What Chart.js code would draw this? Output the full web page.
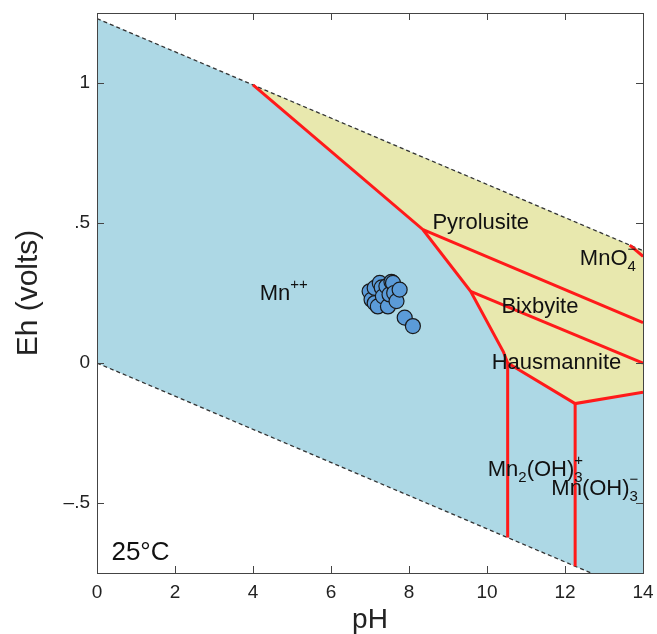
<!DOCTYPE html>
<html><head><meta charset="utf-8">
<script src="https://cdn.jsdelivr.net/npm/chart.js@4.4.1/dist/chart.umd.min.js"></script>
<style>html,body{margin:0;padding:0;background:#fff;} #wrap{width:657px;height:634px;}</style>
</head><body><div id="wrap"><canvas id="c" width="657" height="634"></canvas></div>
<script>
// ---- tick values / labels ----
const xTickValues = [0, 2, 4, 6, 8, 10, 12, 14];
const yTickValues = [-0.5, 0, 0.5, 1];
const yTickLabels = ['\u2013.5', '0', '.5', '1'];

// ---- water stability limits ----
const upperWaterPH = [0, 14];
const upperWaterEh = [1.23, 0.401];
const lowerWaterPH = [0, 14];
const lowerWaterEh = [0, -0.829];

// ---- oxide (yellow) field ----
const oxideTopPH = [4.0, 14];
const oxideTopEh = [0.993, 0.401];
const oxideBottomPH = [4.0, 8.36, 9.58, 10.42, 10.53, 12.26, 14];
const oxideBottomEh = [0.993, 0.476, 0.256, 0.04, 0.0, -0.145, -0.104];

// ---- other boundaries ----
const pyroBixPH = [8.36, 14];
const pyroBixEh = [0.476, 0.144];
const bixHausPH = [9.58, 14];
const bixHausEh = [0.256, 0.0];
const mn2ohPH = [10.53, 10.53];
const mn2ohEh = [0.0, -0.623];
const mnoh3PH = [12.26, 12.26];
const mnoh3Eh = [-0.145, -0.726];
const mno4PH = [13.66, 14];
const mno4Eh = [0.421, 0.381];

// ---- samples ----
const samplePH = [6.99, 7.04, 7.12, 7.12, 7.20, 7.25, 7.30, 7.33, 7.42, 7.46, 7.50, 7.55, 7.59, 7.62, 7.68, 7.76, 7.89, 8.10];
const sampleEh = [0.256, 0.226, 0.268, 0.214, 0.202, 0.286, 0.270, 0.238, 0.274, 0.202, 0.245, 0.290, 0.286, 0.250, 0.221, 0.262, 0.162, 0.132];

// ---- field labels ----
const fieldLabels = [
  {parts: [{t: 'Mn'}, {sup: '++'}], ph: 4.17, eh: 0.226},
  {parts: [{t: 'Pyrolusite'}], ph: 8.6, eh: 0.48},
  {parts: [{t: 'MnO'}, {sub: '4', sup: '\u2212'}], ph: 12.38, eh: 0.351},
  {parts: [{t: 'Bixbyite'}], ph: 10.37, eh: 0.18},
  {parts: [{t: 'Hausmannite'}], ph: 10.12, eh: -0.02},
  {parts: [{t: 'Mn'}, {sub: '2'}, {t: '(OH)'}, {sub: '3', sup: '+'}], ph: 10.02, eh: -0.405},
  {parts: [{t: 'Mn(OH)'}, {sub: '3', sup: '\u2212'}], ph: 11.65, eh: -0.47},
  {parts: [{t: '25\u00B0C'}], ph: 0.37, eh: -0.704, size: 26}
];

const FONT = "'Liberation Sans', Arial, Helvetica, sans-serif";
const pts = (xs, ys) => xs.map((x, i) => ({x: x, y: ys[i]}));
const RED = '#ff1a1a';
const BLUE = '#add8e5';
const YELLOW = '#e8e8ae';

function redLine(xs, ys) {
  return {data: pts(xs, ys), borderColor: RED, borderWidth: 3, pointRadius: 0, fill: false, order: 5, tension: 0};
}

const frame = {
  id: 'frame',
  afterDatasetsDraw(chart) {
    const ctx = chart.ctx, a = chart.chartArea;
    const xs = chart.scales.x, ys = chart.scales.y;
    ctx.save();
    ctx.fillStyle = '#111';
    ctx.textBaseline = 'alphabetic';
    ctx.textAlign = 'left';
    fieldLabels.forEach(l => {
      const size = l.size || 22;
      const small = Math.round(size * 0.7);
      let x = xs.getPixelForValue(l.ph);
      const y = ys.getPixelForValue(l.eh);
      l.parts.forEach(p => {
        if (p.t) {
          ctx.font = size + 'px ' + FONT;
          ctx.fillText(p.t, x, y);
          x += ctx.measureText(p.t).width;
        } else {
          ctx.font = small + 'px ' + FONT;
          let w = 0;
          if (p.sub) { ctx.fillText(p.sub, x, y + 6); w = Math.max(w, ctx.measureText(p.sub).width); }
          if (p.sup) { ctx.fillText(p.sup, x, y - 11); w = Math.max(w, ctx.measureText(p.sup).width); }
          x += w;
        }
      });
    });
    ctx.strokeStyle = '#444';
    ctx.lineWidth = 1;
    ctx.beginPath();
    const tl = 7;
    xs.ticks.forEach(t => {
      const px = Math.round(xs.getPixelForValue(t.value)) + 0.5;
      ctx.moveTo(px, a.bottom); ctx.lineTo(px, a.bottom - tl);
      ctx.moveTo(px, a.top); ctx.lineTo(px, a.top + tl);
    });
    ys.ticks.forEach(t => {
      const py = Math.round(ys.getPixelForValue(t.value)) + 0.5;
      ctx.moveTo(a.left, py); ctx.lineTo(a.left + tl, py);
      ctx.moveTo(a.right, py); ctx.lineTo(a.right - tl, py);
    });
    ctx.stroke();
    ctx.strokeRect(Math.round(a.left) + 0.5, Math.round(a.top) + 0.5, Math.round(a.right - a.left), Math.round(a.bottom - a.top));
    ctx.restore();
  }
};

new Chart(document.getElementById('c'), {
  type: 'line',
  data: {
    datasets: [
      {data: pts(upperWaterPH, upperWaterEh), borderWidth: 0, pointRadius: 0, fill: 1, backgroundColor: BLUE, order: 20},
      {data: pts(lowerWaterPH, lowerWaterEh), borderWidth: 0, pointRadius: 0, fill: false, order: 21},
      {data: pts(oxideTopPH, oxideTopEh), borderWidth: 0, pointRadius: 0, fill: 3, backgroundColor: YELLOW, order: 18},
      {data: pts(oxideBottomPH, oxideBottomEh), borderWidth: 0, pointRadius: 0, fill: false, order: 19},
      {data: pts(upperWaterPH, upperWaterEh), borderColor: '#333', borderWidth: 1.3, borderDash: [4, 3], pointRadius: 0, fill: false, order: 6},
      {data: pts(lowerWaterPH, lowerWaterEh), borderColor: '#333', borderWidth: 1.3, borderDash: [4, 3], pointRadius: 0, fill: false, order: 6},
      redLine(oxideBottomPH, oxideBottomEh),
      redLine(pyroBixPH, pyroBixEh),
      redLine(bixHausPH, bixHausEh),
      redLine(mn2ohPH, mn2ohEh),
      redLine(mnoh3PH, mnoh3Eh),
      redLine(mno4PH, mno4Eh),
      {data: pts(samplePH, sampleEh), showLine: false, pointRadius: 7.5, pointBackgroundColor: '#5b9bd8', pointBorderColor: '#1a1a1a', pointBorderWidth: 1.2, order: 0}
    ]
  },
  options: {
    responsive: false,
    animation: false,
    layout: {padding: {top: 13, right: 14, left: 0, bottom: 0}},
    plugins: {legend: {display: false}, tooltip: {enabled: false}},
    scales: {
      x: {
        type: 'linear', min: 0, max: 14,
        grid: {display: false, drawTicks: false}, border: {display: false},
        afterBuildTicks: s => { s.ticks = xTickValues.map(v => ({value: v})); },
        afterFit: s => { s.height = 61; s.paddingLeft = 0; s.paddingRight = 0; },
        ticks: {padding: 8, color: '#222', font: {family: FONT, size: 19}, callback: v => String(v)},
        title: {display: true, text: 'pH', color: '#222', font: {family: FONT, size: 28, lineHeight: 1}, padding: {top: 0, bottom: 0}}
      },
      y: {
        type: 'linear', min: -0.75, max: 1.25,
        grid: {display: false, drawTicks: false}, border: {display: false},
        afterBuildTicks: s => { s.ticks = yTickValues.map(v => ({value: v})); },
        afterFit: s => { s.width = 97; s.paddingTop = 0; s.paddingBottom = 0; },
        ticks: {padding: 7, color: '#222', font: {family: FONT, size: 19},
          callback: v => { const i = yTickValues.indexOf(v); return i >= 0 ? yTickLabels[i] : ''; }},
        title: {display: true, text: 'Eh (volts)', color: '#222', font: {family: FONT, size: 30, lineHeight: 1}, padding: {top: 14, bottom: 0}}
      }
    }
  },
  plugins: [frame]
});
</script>
</body></html>
